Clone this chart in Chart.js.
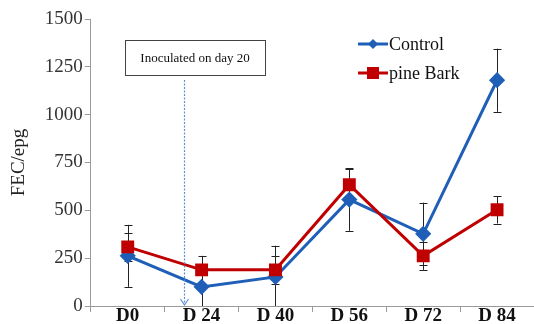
<!DOCTYPE html>
<html>
<head>
<meta charset="utf-8">
<script src="https://cdn.jsdelivr.net/npm/chart.js@4"></script>
<style>
  html, body { margin: 0; padding: 0; background: #fff; }
  #wrap { width: 534px; height: 324px; }
</style>
</head>
<body>
<div id="wrap"><canvas id="fec-chart" width="534" height="324"></canvas></div>
<script>
// --- Data ---
const days = ['D0', 'D 24', 'D 40', 'D 56', 'D 72', 'D 84'];
const controlValues = [262, 100, 152, 556, 377, 1180];
const controlErrors = [162, 100, 163, 163, 163, 165];
const barkValues = [309, 189, 189, 634, 262, 503];
const barkErrors = [74, 73, 73, 80, 73, 72];
const yTicks = [0, 250, 500, 750, 1000, 1250, 1500];
const noteText = 'Inoculated on day 20';

const serif = '"Liberation Serif", "DejaVu Serif", serif';
const blue = '#1f5fb8';
const red = '#c00000';

// error bars drawn under the lines
const errorBars = {
    id: 'errorBars',
    beforeDatasetsDraw(chart) {
        const ctx = chart.ctx;
        const y = chart.scales.y;
        const area = chart.chartArea;
        ctx.save();
        ctx.strokeStyle = '#222';
        ctx.lineWidth = 1;
        chart.data.datasets.forEach((ds, di) => {
            const meta = chart.getDatasetMeta(di);
            meta.data.forEach((pt, i) => {
                const v = ds.data[i], e = ds.errors[i];
                const top = y.getPixelForValue(v + e);
                const bot = Math.min(y.getPixelForValue(v - e), area.bottom);
                const x = Math.round(pt.x) + 0.5;
                ctx.beginPath();
                ctx.moveTo(x, top); ctx.lineTo(x, bot);
                ctx.moveTo(x - 4, Math.round(top) + 0.5); ctx.lineTo(x + 4, Math.round(top) + 0.5);
                if (bot < area.bottom) {
                    ctx.moveTo(x - 4, Math.round(bot) + 0.5); ctx.lineTo(x + 4, Math.round(bot) + 0.5);
                }
                ctx.stroke();
            });
        });
        ctx.restore();
    }
};

// note box, dotted arrow and inline legend
const extras = {
    id: 'extras',
    afterDraw(chart) {
        const ctx = chart.ctx;
        const x = chart.scales.x;
        const area = chart.chartArea;
        ctx.save();

        // note box
        ctx.font = '13px ' + serif;
        const bx = 125, by = 40, bw = 140, bh = 35;
        ctx.fillStyle = '#fff';
        ctx.fillRect(bx, by, bw, bh);
        ctx.strokeStyle = '#444';
        ctx.lineWidth = 1;
        ctx.strokeRect(bx + 0.5, by + 0.5, bw, bh);
        ctx.fillStyle = '#111';
        ctx.textAlign = 'center';
        ctx.textBaseline = 'middle';
        ctx.fillText(noteText, bx + bw / 2, by + bh / 2 + 1);

        // dotted arrow at day 20
        const p0 = x.getPixelForValue(0), p1 = x.getPixelForValue(1);
        const ax = Math.round(p0 + (p1 - p0) * 0.76) + 0.5;
        ctx.strokeStyle = '#5b8fd6';
        ctx.lineWidth = 1.2;
        ctx.setLineDash([2, 1.5]);
        ctx.beginPath();
        ctx.moveTo(ax, 80); ctx.lineTo(ax, area.bottom - 1);
        ctx.stroke();
        ctx.setLineDash([]);
        ctx.beginPath();
        ctx.moveTo(ax - 4, area.bottom - 7); ctx.lineTo(ax, area.bottom - 1); ctx.lineTo(ax + 4, area.bottom - 7);
        ctx.stroke();

        // legend
        const lx = 358, items = [
            { label: 'Control', color: blue, style: 'diamond', y: 44 },
            { label: 'pine Bark', color: red, style: 'square', y: 73 }
        ];
        ctx.font = '18px ' + serif;
        ctx.textAlign = 'left';
        items.forEach(it => {
            ctx.strokeStyle = it.color;
            ctx.fillStyle = it.color;
            ctx.lineWidth = 3;
            ctx.beginPath();
            ctx.moveTo(lx, it.y); ctx.lineTo(lx + 30, it.y);
            ctx.stroke();
            const cx = lx + 15;
            if (it.style === 'diamond') {
                ctx.beginPath();
                ctx.moveTo(cx, it.y - 5); ctx.lineTo(cx + 5, it.y); ctx.lineTo(cx, it.y + 5); ctx.lineTo(cx - 5, it.y);
                ctx.closePath(); ctx.fill();
            } else {
                ctx.fillRect(cx - 6, it.y - 6, 12, 12);
            }
            ctx.fillStyle = '#111';
            ctx.fillText(it.label, lx + 31, it.y + 1);
        });
        ctx.restore();
    }
};

new Chart(document.getElementById('fec-chart'), {
    type: 'line',
    data: {
        labels: days,
        datasets: [
            {
                label: 'Control', data: controlValues, errors: controlErrors,
                borderColor: blue, backgroundColor: blue, borderWidth: 3,
                pointStyle: 'rectRot', pointRadius: 6, pointHoverRadius: 6, order: 1
            },
            {
                label: 'pine Bark', data: barkValues, errors: barkErrors,
                borderColor: red, backgroundColor: red, borderWidth: 3,
                pointStyle: 'rect', pointRadius: 7, pointHoverRadius: 7, order: 0
            }
        ]
    },
    options: {
        responsive: false,
        animation: false,
        layout: { autoPadding: false, padding: { left: 4, top: 19, right: -5, bottom: 3 } },
        plugins: { legend: { display: false }, tooltip: { enabled: false } },
        scales: {
            x: {
                offset: true,
                border: { color: '#9a9a9a', width: 1 },
                grid: { display: true, drawOnChartArea: false, offset: true, tickLength: 6, color: '#9a9a9a' },
                ticks: { color: '#111', padding: -5, font: { family: serif, size: 19, weight: 'bold', lineHeight: 1 } }
            },
            y: {
                min: 0, max: 1500,
                afterBuildTicks: axis => { axis.ticks = yTicks.map(v => ({ value: v })); },
                border: { color: '#9a9a9a', width: 1 },
                grid: { display: true, drawOnChartArea: false, tickLength: 6, color: '#9a9a9a' },
                ticks: { color: '#333', padding: 2, callback: v => String(v), font: { family: serif, size: 19 } },
                title: { display: true, text: 'FEC/epg', color: '#222', padding: { bottom: 12 }, font: { family: serif, size: 19 } }
            }
        }
    },
    plugins: [errorBars, extras]
});
</script>
</body>
</html>
